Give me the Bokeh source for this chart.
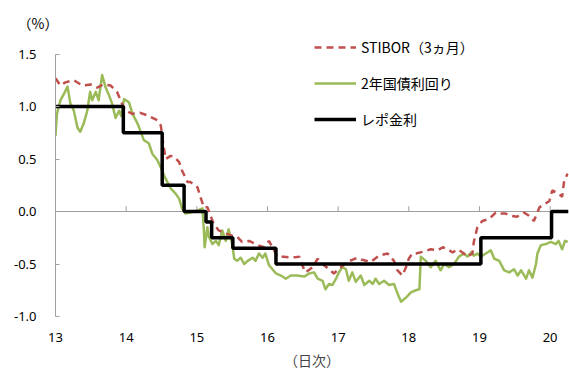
from bokeh.plotting import figure
from bokeh.models import (Range1d, FixedTicker, PrintfTickFormatter, Span,
                          Legend, LegendItem)
from bokeh.embed import file_html
from bokeh.resources import INLINE

# ---------------- data ----------------
stibor_x = [13.00, 13.07, 13.14, 13.26, 13.38, 13.50, 13.59, 13.68, 13.78, 13.87,
            13.94, 13.99, 14.09, 14.20, 14.32, 14.44, 14.49, 14.53, 14.56, 14.63,
            14.68, 14.75, 14.79, 14.87, 14.91, 15.01, 15.05, 15.10, 15.15, 15.20,
            15.24, 15.31, 15.41, 15.50, 15.57, 15.64, 15.74, 15.86, 15.95, 16.02,
            16.07, 16.14, 16.23, 16.33, 16.45, 16.49, 16.54, 16.64, 16.71, 16.78,
            16.87, 16.94, 17.04, 17.13, 17.20, 17.27, 17.34, 17.46, 17.58, 17.70,
            17.79, 17.84, 17.91, 17.96, 18.00, 18.05, 18.10, 18.22, 18.31, 18.41,
            18.48, 18.55, 18.62, 18.69, 18.76, 18.83, 18.90, 18.92, 18.97, 19.04,
            19.14, 19.23, 19.30, 19.37, 19.44, 19.53, 19.63, 19.70, 19.77, 19.85,
            19.92, 19.99, 20.03, 20.10, 20.17, 20.20, 20.25]
stibor_y = [1.27, 1.20, 1.23, 1.25, 1.20, 1.21, 1.18, 1.21, 1.20, 1.14,
            1.03, 0.96, 0.93, 0.94, 0.91, 0.87, 0.82, 0.62, 0.50, 0.53,
            0.52, 0.47, 0.39, 0.28, 0.28, 0.23, 0.14, 0.04, 0.04, -0.05,
            -0.12, -0.18, -0.21, -0.23, -0.24, -0.29, -0.28, -0.32, -0.34, -0.28,
            -0.34, -0.43, -0.43, -0.44, -0.43, -0.51, -0.58, -0.53, -0.45, -0.50,
            -0.55, -0.59, -0.53, -0.48, -0.46, -0.44, -0.46, -0.48, -0.42, -0.40,
            -0.47, -0.56, -0.61, -0.53, -0.45, -0.40, -0.40, -0.38, -0.36, -0.37,
            -0.34, -0.36, -0.39, -0.36, -0.39, -0.43, -0.40, -0.29, -0.15, -0.09,
            -0.07, -0.01, -0.02, -0.02, -0.04, -0.05, -0.01, -0.04, -0.09, 0.04,
            0.07, 0.10, 0.20, 0.18, 0.14, 0.30, 0.36]

bond_x = [13.00, 13.02, 13.07, 13.12, 13.17, 13.21, 13.26, 13.31, 13.35, 13.40,
          13.45, 13.49, 13.52, 13.57, 13.61, 13.66, 13.71, 13.75, 13.80, 13.85,
          13.90, 13.93, 13.97, 14.04, 14.09, 14.16, 14.20, 14.25, 14.32, 14.37,
          14.44, 14.49, 14.56, 14.63, 14.70, 14.75, 14.79, 14.84, 14.91, 15.01,
          15.08, 15.10, 15.11, 15.15, 15.17, 15.22, 15.27, 15.31, 15.36, 15.41,
          15.45, 15.50, 15.53, 15.57, 15.62, 15.67, 15.72, 15.79, 15.83, 15.88,
          15.93, 15.97, 16.02, 16.07, 16.12, 16.19, 16.26, 16.33, 16.42, 16.52,
          16.59, 16.66, 16.71, 16.78, 16.82, 16.87, 16.92, 16.97, 17.01, 17.06,
          17.11, 17.15, 17.20, 17.25, 17.32, 17.37, 17.44, 17.49, 17.53, 17.58,
          17.65, 17.72, 17.79, 17.84, 17.89, 17.96, 18.03, 18.10, 18.15, 18.17,
          18.24, 18.31, 18.38, 18.45, 18.50, 18.57, 18.64, 18.71, 18.78, 18.83,
          18.88, 18.92, 18.97, 19.02, 19.09, 19.16, 19.21, 19.28, 19.35, 19.42,
          19.49, 19.54, 19.59, 19.66, 19.70, 19.75, 19.80, 19.82, 19.87, 19.94,
          20.01, 20.08, 20.12, 20.17, 20.21, 20.25]
bond_y = [0.72, 0.93, 1.06, 1.12, 1.19, 1.03, 0.96, 0.80, 0.76, 0.84,
          0.96, 1.14, 1.06, 1.14, 1.06, 1.30, 1.18, 1.12, 1.03, 0.89,
          0.96, 0.91, 1.07, 1.04, 0.93, 0.84, 0.77, 0.68, 0.65, 0.55,
          0.49, 0.42, 0.31, 0.22, 0.17, 0.12, 0.03, -0.02, -0.01, 0.01,
          0.03, -0.18, -0.34, -0.15, -0.24, -0.31, -0.28, -0.32, -0.18, -0.28,
          -0.17, -0.31, -0.45, -0.47, -0.44, -0.50, -0.47, -0.44, -0.47, -0.40,
          -0.44, -0.40, -0.51, -0.55, -0.59, -0.61, -0.64, -0.61, -0.61, -0.62,
          -0.59, -0.58, -0.64, -0.66, -0.74, -0.69, -0.70, -0.64, -0.58, -0.53,
          -0.55, -0.66, -0.58, -0.67, -0.61, -0.70, -0.66, -0.69, -0.64, -0.69,
          -0.66, -0.70, -0.69, -0.78, -0.86, -0.82, -0.77, -0.75, -0.74, -0.43,
          -0.47, -0.53, -0.47, -0.56, -0.50, -0.53, -0.50, -0.43, -0.40, -0.43,
          -0.39, -0.42, -0.40, -0.43, -0.40, -0.37, -0.45, -0.47, -0.56, -0.58,
          -0.55, -0.61, -0.56, -0.64, -0.56, -0.63, -0.50, -0.40, -0.32, -0.31,
          -0.29, -0.31, -0.28, -0.36, -0.28, -0.29]

repo_x = [13.00, 13.96, 14.51, 14.82, 15.13, 15.21, 15.51, 16.12, 19.02, 20.02, 20.26]
repo_y = [1.00, 0.75, 0.25, 0.00, -0.10, -0.25, -0.35, -0.50, -0.25, 0.00, 0.00]

x_ticks = [13, 14, 15, 16, 17, 18, 19, 20]
y_ticks = [-1.0, -0.5, 0.0, 0.5, 1.0, 1.5]

label_stibor = "STIBOR（3ヵ月）"
label_bond = "2年国債利回り"
label_repo = "レポ金利"
unit_label = "（%）"
x_title = "（日次）"

# ---------------- figure ----------------
AXIS_GRAY = "#a0a0a0"
NUM_FONT = "Noto Sans"
JP_FONT = "Noto Sans CJK JP"

p = figure(width=569, height=373, output_backend="svg", toolbar_location=None,
           x_range=Range1d(13, 20.26), y_range=Range1d(-1.0, 1.6667),
           min_border_left=55, min_border_right=1, min_border_top=36,
           min_border_bottom=57)
p.outline_line_color = None
p.xgrid.visible = False
p.ygrid.visible = False
p.background_fill_color = "white"
p.border_fill_color = "white"

# unit label as title
p.title.text = unit_label
p.title.align = "left"
p.title.offset = -38
p.title.text_font = JP_FONT
p.title.text_font_size = "14px"
p.title.text_font_style = "normal"
p.title.text_color = "#000000"
p.title.standoff = 7

# y axis
ya = p.yaxis[0]
ya.bounds = (-1.0, 1.5)
ya.ticker = FixedTicker(ticks=y_ticks)
ya.formatter = PrintfTickFormatter(format="%.1f")
ya.axis_line_color = AXIS_GRAY
ya.major_tick_line_color = AXIS_GRAY
ya.major_tick_in = 4
ya.major_tick_out = 0
ya.minor_tick_line_color = None
ya.major_label_standoff = 19
ya.major_label_text_font = NUM_FONT
ya.major_label_text_font_size = "13px"
ya.major_label_text_color = "#000000"

# x axis (labels only, at bottom)
xa = p.xaxis[0]
xa.ticker = FixedTicker(ticks=x_ticks)
xa.axis_line_color = None
xa.major_tick_line_color = None
xa.minor_tick_line_color = None
xa.major_label_standoff = 10
xa.major_label_text_font = NUM_FONT
xa.major_label_text_font_size = "13px"
xa.major_label_text_color = "#000000"
xa.axis_label = x_title
xa.axis_label_text_font = JP_FONT
xa.axis_label_text_font_size = "14px"
xa.axis_label_text_font_style = "normal"
xa.axis_label_standoff = 5

# zero line (under the series) with tick marks
p.add_layout(Span(location=0, dimension="width", line_color=AXIS_GRAY, line_width=1,
                  level="underlay"))
p.segment(x0=x_ticks[1:], y0=[0] * (len(x_ticks) - 1), x1=x_ticks[1:],
          y1=[0.05] * (len(x_ticks) - 1), line_color=AXIS_GRAY, line_width=1)

# series
r_bond = p.line(bond_x, bond_y, line_color="#9bbb59", line_width=2.5, line_join="round")
r_stibor = p.line(stibor_x, stibor_y, line_color="#c0504d", line_width=2.5,
                  line_dash="7 5")
r_repo = p.step(repo_x, repo_y, mode="after", line_color="#000000", line_width=3.5)

legend = Legend(items=[LegendItem(label=label_stibor, renderers=[r_stibor]),
                       LegendItem(label=label_bond, renderers=[r_bond]),
                       LegendItem(label=label_repo, renderers=[r_repo])],
                location=(259, 187), orientation="vertical",
                glyph_width=42, glyph_height=20, label_height=20, spacing=16,
                label_standoff=5, padding=0, margin=0,
                border_line_color=None, background_fill_alpha=0,
                label_text_font=JP_FONT, label_text_font_size="14px",
                label_text_color="#000000")
p.add_layout(legend, "center")

open("out.html", "w").write(file_html(p, INLINE))
